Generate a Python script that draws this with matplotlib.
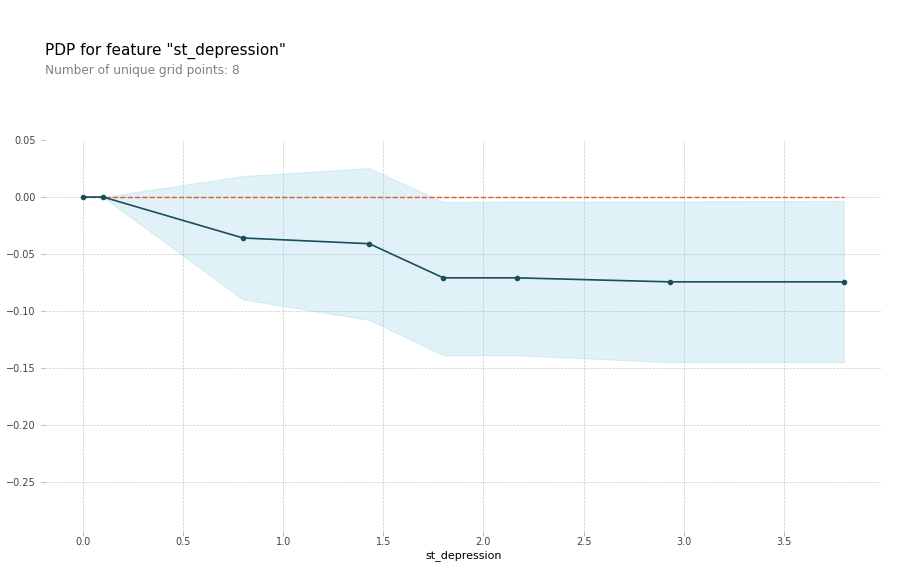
import numpy as np
import matplotlib
matplotlib.use('Agg')
import matplotlib.pyplot as plt

# grid points of st_depression and pdp values
grid_x = [0.0, 0.1, 0.8, 1.43, 1.8, 2.17, 2.93, 3.8]
pdp = [0.0, 0.0, -0.036, -0.041, -0.071, -0.071, -0.0745, -0.0745]
upper = [0.0, 0.0, 0.0184, 0.0254, -0.0044, -0.0042, -0.0038, -0.0035]
lower = [0.0, 0.0, -0.090, -0.108, -0.139, -0.139, -0.145, -0.145]

feature = 'st_depression'
n_grid = 8

fig = plt.figure(figsize=(8.98, 5.67), dpi=100)
fig.text(0.050, 0.904, 'PDP for feature "%s"' % feature, fontsize=11, color='black')
fig.text(0.050, 0.870, 'Number of unique grid points: %d' % n_grid, fontsize=8.7, color='grey')

ax = fig.add_axes([0.050, 0.062, 0.932, 0.691])
ax.fill_between(grid_x, upper, lower, color='#66C2D7', alpha=0.2, linewidth=0.8)
ax.plot(grid_x, [0] * len(grid_x), linestyle='--', color='#E75438', linewidth=1)
ax.plot(grid_x, pdp, color='#1A4E5D', linewidth=1.2, marker='o', markersize=3)

ax.set_ylim(-0.294, 0.05)
ax.set_yticks([0.05, 0.0, -0.05, -0.10, -0.15, -0.20, -0.25])
ax.set_xticks([0.0, 0.5, 1.0, 1.5, 2.0, 2.5, 3.0, 3.5])
ax.set_xlabel(feature, fontsize=8, labelpad=2)
for s in ax.spines.values():
    s.set_visible(False)
ax.tick_params(axis='both', labelsize=7, labelcolor='#424242', colors='#9E9E9E', length=3, width=0.5)
ax.tick_params(axis='x', pad=1)
ax.tick_params(labelcolor='#424242')
ax.grid(True, linestyle='--', linewidth=0.5, color='#BDBDBD', alpha=0.8)
ax.set_axisbelow(True)
# top gridline sits on the axes edge and is not drawn in the original
ax.yaxis.get_major_ticks()[0].gridline.set_visible(False)

fig.savefig('out.png', dpi=100)
